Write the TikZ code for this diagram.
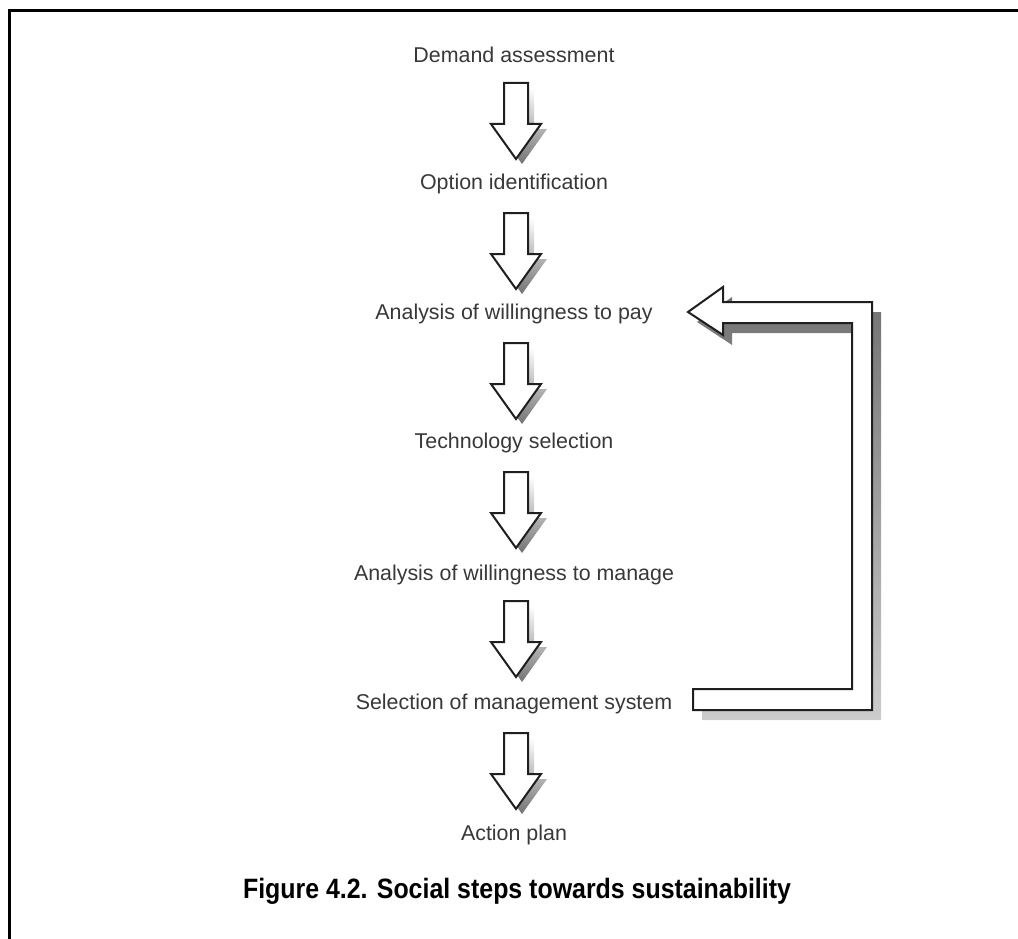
\documentclass[tikz,border=0pt]{standalone}
\usepackage{fontspec}
\setmainfont{Liberation Sans}
\usetikzlibrary{calc}
\newcommand{\dnarrow}[1]{%
  \begin{scope}[shift={(#1)}]
    \shade[top color=white, middle color=black!30, bottom color=black!55, shift={(6,5)}]
      (-12,0) -- (12,0) -- (12,41) -- (25,41) -- (0,76) -- (-25,41) -- (-12,41) -- cycle;
    \draw[outl] (-12,0) -- (12,0) -- (12,41) -- (25,41) -- (0,76) -- (-25,41) -- (-12,41) -- cycle;
  \end{scope}}
\begin{document}
\begin{tikzpicture}[x=1pt,y=-1pt,
  lbl/.style={font=\fontsize{21.4}{25}\selectfont, text=black!78, inner sep=0pt, anchor=base},
  captext/.style={font=\fontsize{28}{32}\selectfont\bfseries, inner sep=0pt, anchor=base},
  outl/.style={draw=black!88, line width=2pt, fill=white, line join=miter},
  frameline/.style={line width=2.6pt, black}]
\useasboundingbox (0,0) rectangle (1018,939);
\draw[frameline] (9.3,939) -- (9.3,10.3) -- (1018,10.3);

\node[lbl] (t1) at (514,62.5) {Demand assessment};
\node[lbl] (t2) at (514,189.5) {Option identification};
\node[lbl] (t3) at (514,319.5) {Analysis of willingness to pay};
\node[lbl] (t4) at (514,448.5) {Technology selection};
\node[lbl] (t5) at (514,580.5) {Analysis of willingness to manage};
\node[lbl] (t6) at (514,709.5) {Selection of management system};
\node[lbl] (t7) at (514,840.5) {Action plan};

\dnarrow{516,83}
\dnarrow{516,213}
\dnarrow{516,343}
\dnarrow{516,472}
\dnarrow{516,601}
\dnarrow{516,733}

% feedback loop arrow
\shade[top color=black!55, bottom color=black!20, shift={(9,10)}]
  (688,312) -- (723,287) -- (723,302) -- (872,302) -- (872,710) -- (693,710) -- (693,689)
  -- (852,689) -- (852,323) -- (723,323) -- (723,335) -- cycle;
\draw[outl] (688,312) -- (723,287) -- (723,302) -- (872,302) -- (872,710) -- (693,710) -- (693,689)
  -- (852,689) -- (852,323) -- (723,323) -- (723,335) -- cycle;

\node[captext] (caption) at (517,898) {\scalebox{0.89}[1]{Figure 4.2. Social steps towards sustainability}};
\end{tikzpicture}
\end{document}
